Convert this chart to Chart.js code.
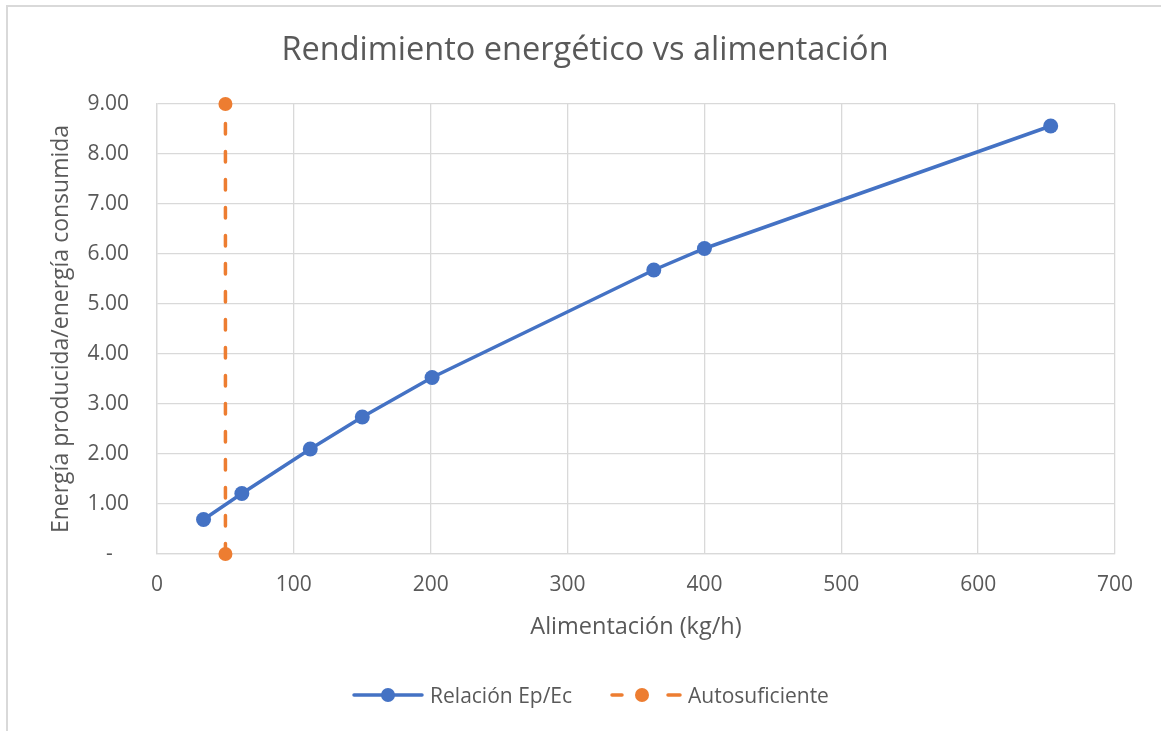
<!DOCTYPE html>
<html>
<head>
<meta charset="utf-8">
<script src="https://cdn.jsdelivr.net/npm/chart.js@4/dist/chart.umd.min.js"></script>
<style>
  html, body { margin: 0; padding: 0; background: #ffffff; }
  #wrap { position: relative; width: 1161px; height: 731px; overflow: hidden; }
  #frame { position: absolute; left: 6px; top: 5px; width: 1200px; height: 800px;
           border-left: 2px solid #d9d9d9; border-top: 2px solid #d9d9d9; box-sizing: border-box; }
  #chart { position: absolute; left: 0; top: 0; }
  #legend { position: absolute; left: 0; width: 1161px; top: 680px; height: 30px; padding-left: 20px;
            box-sizing: border-box;
            display: flex; justify-content: center; align-items: center;
            font-family: "Open Sans", sans-serif; font-size: 21px; color: #595959; }
  .item { display: flex; align-items: center; margin: 0 19px; }
  .item svg { margin-right: 6px; }
</style>
</head>
<body>
<div id="wrap">
  <div id="frame"></div>
  <canvas id="chart" width="1161" height="731"></canvas>
  <div id="legend">
    <div class="item">
      <svg width="72" height="20" viewBox="0 0 72 20">
        <line x1="2" y1="10" x2="70" y2="10" stroke="#4472C4" stroke-width="3.5" stroke-linecap="round"/>
        <circle cx="36" cy="10" r="7" fill="#4472C4"/>
      </svg>
      <span>Relación Ep/Ec</span>
    </div>
    <div class="item">
      <svg width="72" height="20" viewBox="0 0 72 20">
        <line x1="2" y1="10" x2="12" y2="10" stroke="#ED7D31" stroke-width="3.5" stroke-linecap="round"/>
        <circle cx="32" cy="10" r="7" fill="#ED7D31"/>
        <line x1="58" y1="10" x2="70" y2="10" stroke="#ED7D31" stroke-width="3.5" stroke-linecap="round"/>
      </svg>
      <span>Autosuficiente</span>
    </div>
  </div>
</div>
<script>
// Feed rate (kg/h) and produced/consumed energy ratio
const feedRates = [34, 62, 112, 150, 201, 363, 400, 653];
const energyRatios = [0.69, 1.21, 2.10, 2.74, 3.53, 5.68, 6.11, 8.56];

// Self-sufficiency threshold: vertical reference at 50 kg/h
const selfSufficientX = [50, 50];
const selfSufficientY = [0, 9];

// Axis ranges and tick steps
const xRange = [0, 700];
const xStep = 100;
const yRange = [0, 9];
const yStep = 1;

const chartTitle = 'Rendimiento energético vs alimentación';
const xTitle = 'Alimentación (kg/h)';
const yTitle = 'Energía producida/energía consumida';
const seriesNames = ['Relación Ep/Ec', 'Autosuficiente'];

const toPoints = (xs, ys) => xs.map((x, i) => ({ x: x, y: ys[i] }));

const textColor = '#595959';
const gridColor = '#d9d9d9';
const fontFamily = '"Open Sans", sans-serif';

const LEFT_PAD = 55;
const PLOT_LEFT = 157;

new Chart(document.getElementById('chart'), {
  type: 'scatter',
  data: {
    datasets: [
      {
        label: seriesNames[0],
        data: toPoints(feedRates, energyRatios),
        showLine: true,
        borderColor: '#4472C4',
        backgroundColor: '#4472C4',
        borderWidth: 3.5,
        pointRadius: 7.5,
        pointHoverRadius: 7.5,
        pointBorderWidth: 0,
        clip: false
      },
      {
        label: seriesNames[1],
        data: toPoints(selfSufficientX, selfSufficientY),
        showLine: true,
        borderColor: '#ED7D31',
        backgroundColor: '#ED7D31',
        borderWidth: 3.5,
        borderDash: [10.5, 17.5],
        borderCapStyle: 'round',
        pointRadius: 7,
        pointHoverRadius: 7,
        pointBorderWidth: 0,
        clip: false
      }
    ]
  },
  options: {
    responsive: false,
    animation: false,
    events: [],
    layout: { padding: { left: LEFT_PAD, right: 46, top: 0, bottom: 77 } },
    plugins: {
      legend: { display: false },
      tooltip: { enabled: false },
      title: {
        display: true,
        text: chartTitle,
        color: textColor,
        font: { family: fontFamily, size: 32.5, weight: 'normal' },
        padding: { top: 31, bottom: 34 }
      }
    },
    scales: {
      x: {
        type: 'linear',
        min: xRange[0],
        max: xRange[1],
        afterFit: (scale) => { scale.height = 100; },
        ticks: {
          stepSize: xStep,
          color: textColor,
          padding: 18,
          font: { family: fontFamily, size: 21 }
        },
        grid: { color: gridColor, lineWidth: 1.3, drawTicks: false },
        border: { color: gridColor, width: 1.3 },
        title: {
          display: true,
          text: xTitle,
          color: textColor,
          font: { family: fontFamily, size: 23.5 },
          padding: { top: 0, bottom: 13 }
        }
      },
      y: {
        type: 'linear',
        min: yRange[0],
        max: yRange[1],
        afterFit: (scale) => { scale.width = PLOT_LEFT - LEFT_PAD; },
        ticks: {
          stepSize: yStep,
          color: textColor,
          padding: 28,
          font: { family: fontFamily, size: 21 },
          callback: (v) => (v === 0 ? '-   ' : Number(v).toFixed(2))
        },
        grid: { color: gridColor, lineWidth: 1.3, drawTicks: false },
        border: { color: gridColor, width: 1.3 },
        title: {
          display: true,
          text: yTitle,
          color: textColor,
          font: { family: fontFamily, size: 23 },
          padding: { top: -7, bottom: 0 }
        }
      }
    }
  }
});
</script>
</body>
</html>
